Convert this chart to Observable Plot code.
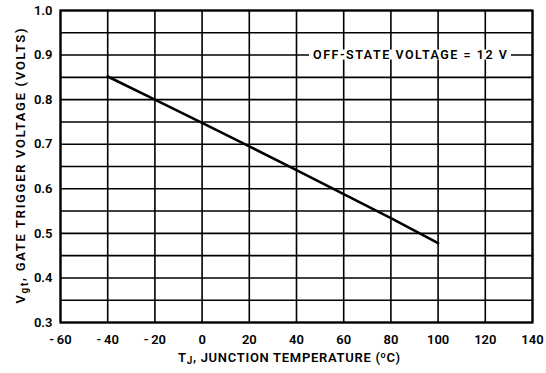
<!DOCTYPE html>
<html><head><meta charset="utf-8">
<script src="https://cdn.jsdelivr.net/npm/d3@7"></script>
<script src="https://cdn.jsdelivr.net/npm/@observablehq/plot@0.6"></script>
<style>
body{margin:0;background:#fff;}
svg{font-family:Roboto,"Liberation Sans",sans-serif;}
</style></head><body><div id="chart"></div>
<script>
const tempC = [-40, -20, 0, 20, 40, 60, 80, 100];
const vgt = [0.852, 0.800, 0.748, 0.695, 0.642, 0.588, 0.534, 0.478];
const xTicks = [-60, -40, -20, 0, 20, 40, 60, 80, 100, 120, 140];
const yTicks = [0.3, 0.4, 0.5, 0.6, 0.7, 0.8, 0.9, 1.0];
const yGrid = [0.35, 0.45, 0.55, 0.65, 0.75, 0.85, 0.95];
const noteText = "OFF-STATE VOLTAGE = 12 V";
const noteX = 88.3, noteY = 0.9;

const data = tempC.map((t, i) => ({t, v: vgt[i]}));

const plot = Plot.plot({
  width: 546, height: 373,
  marginLeft: 60, marginRight: 14, marginTop: 10, marginBottom: 51,
  x: {domain: [-60, 140]},
  y: {domain: [0.3, 1.0]},
  style: {background: "#fff", color: "#000"},
  marks: [
    Plot.ruleX(xTicks, {stroke: "#000", strokeWidth: 1.6}),
    Plot.ruleY(yTicks, {stroke: "#000", strokeWidth: 1.6}),
    Plot.ruleY(yGrid, {stroke: "#000", strokeWidth: 1.6}),
    Plot.line(data, {x: "t", y: "v", stroke: "#000", strokeWidth: 2.6}),
    Plot.frame({stroke: "#000", strokeWidth: 2.2}),
    Plot.axisX(xTicks, {tickSize: 0, tickPadding: 12, fontSize: 13, fontWeight: 600,
      tickFormat: d => d < 0 ? "-\u2009" + Math.abs(d) : String(d), label: null}),
    Plot.axisY(yTicks, {tickSize: 0, tickPadding: 8, fontSize: 13, fontWeight: 600,
      tickFormat: d => d.toFixed(1), label: null})
  ]
});
document.getElementById("chart").appendChild(plot);

const svg = d3.select(plot);
const sx = plot.scale("x"), sy = plot.scale("y");

// note with white background over the gridline
const nx = sx.apply(noteX), ny = sy.apply(noteY);
const noteG = svg.append("g");
noteG.append("rect").attr("x", nx - 101).attr("y", ny - 5).attr("width", 202).attr("height", 10).attr("fill", "#fff");
noteG.append("text").attr("x", nx).attr("y", ny).attr("dy", "0.36em").attr("text-anchor", "middle")
  .attr("font-size", 12.5).attr("font-weight", 600).attr("fill", "#000")
  .attr("textLength", 194).attr("lengthAdjust", "spacing").text(noteText);

// Axis titles with sub/superscripts
const xt = svg.append("text").attr("x", 289).attr("y", 362).attr("text-anchor", "middle")
  .attr("font-size", 13).attr("font-weight", 600).attr("fill", "#000")
  .attr("textLength", 222).attr("lengthAdjust", "spacing");
xt.append("tspan").text("T");
xt.append("tspan").attr("font-size", 10).attr("dy", 2).text("J");
xt.append("tspan").attr("dy", -2).text(", JUNCTION TEMPERATURE (");
xt.append("tspan").attr("font-size", 9).attr("dy", -4).text("o");
xt.append("tspan").attr("dy", 4).text("C)");

const yt = svg.append("text").attr("transform", "translate(25,166) rotate(-90)").attr("text-anchor", "middle")
  .attr("font-size", 13).attr("font-weight", 600).attr("fill", "#000")
  .attr("textLength", 275).attr("lengthAdjust", "spacing");
yt.append("tspan").text("V");
yt.append("tspan").attr("font-size", 10).attr("dy", 3).text("gt");
yt.append("tspan").attr("dy", -3).text(", GATE TRIGGER VOLTAGE (VOLTS)");
</script></body></html>
